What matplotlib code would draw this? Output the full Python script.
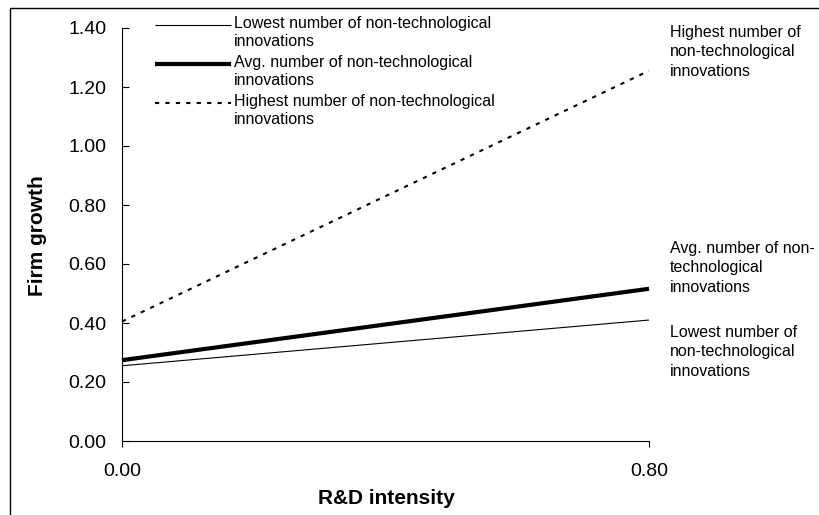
import matplotlib
matplotlib.use("Agg")
import matplotlib.pyplot as plt
from matplotlib.lines import Line2D
from matplotlib.patches import Rectangle

plt.rcParams['font.family'] = ['Liberation Sans', 'DejaVu Sans']

# values
rd_intensity = [0.0, 0.8]
growth_lowest = [0.255, 0.41]
growth_avg = [0.274, 0.516]
growth_highest = [0.405, 1.255]

series_names = ['Lowest number of non-technological\ninnovations',
                'Avg. number of non-technological\ninnovations',
                'Highest number of non-technological\ninnovations']
end_labels = ['Lowest number of\nnon-technological\ninnovations',
              'Avg. number of non-\ntechnological\ninnovations',
              'Highest number of\nnon-technological\ninnovations']
yticks = [0.0, 0.2, 0.4, 0.6, 0.8, 1.0, 1.2, 1.4]
xticks = [0.0, 0.8]

W, H = 820, 515
fig = plt.figure(figsize=(W / 100, H / 100), dpi=100)
ax = fig.add_axes([122 / W, 1 - 441 / H, (649 - 122) / W, (441 - 28) / H])

styles = [dict(color='black', lw=0.8, ls='-'),
          dict(color='black', lw=3.0, ls='-'),
          dict(color='black', lw=1.5, ls=(0, (2, 3)))]
series = [growth_lowest, growth_avg, growth_highest]
for vals, st in zip(series, styles):
    ax.plot(rd_intensity, vals, solid_capstyle='butt', clip_on=False, **st)

ax.set_xlim(0, 0.8)
ax.set_ylim(0, 1.4)
ax.set_xticks(xticks)
ax.set_xticklabels(['%.2f' % v for v in xticks])
ax.set_yticks(yticks)
ax.set_yticklabels(['%.2f' % v for v in yticks])
ax.tick_params(axis='y', direction='in', length=5, width=0.8, pad=11, labelsize=14)
ax.tick_params(axis='x', direction='out', length=4, width=0.8, pad=12, labelsize=14)
ax.spines['top'].set_visible(False)
ax.spines['right'].set_visible(False)
ax.spines['left'].set_linewidth(0.8)
ax.spines['bottom'].set_linewidth(0.8)

fig.text(38 / W, 1 - 236 / H, 'Firm growth', rotation=90, ha='center', va='center',
         fontsize=15, fontweight='bold')
fig.text(386 / W, 1 - 498 / H, 'R&D intensity', ha='center', va='center',
         fontsize=15, fontweight='bold')

# legend drawn by hand, top left inside the plot
leg_y = [25, 64, 103]
for name, st, y in zip(series_names, styles, leg_y):
    fig.add_artist(Line2D([155 / W, 231 / W], [1 - y / H, 1 - y / H],
                          transform=fig.transFigure, solid_capstyle='butt', **st))
    fig.text(234 / W, 1 - (y - 9) / H, name, ha='left', va='top', fontsize=11.5,
             linespacing=1.22)

# labels at the right end of the lines
end_y = [325, 241, 25]
for lab, y in zip(end_labels, end_y):
    fig.text(670 / W, 1 - y / H, lab, ha='left', va='top', fontsize=11.5, linespacing=1.36)

# outer frame, cut off at right and bottom
fig.add_artist(Rectangle((10 / W, -0.1), 1.2, 1 - 8 / H + 0.1, transform=fig.transFigure,
                         fill=False, edgecolor='black', lw=1.0))

fig.savefig('out.png', dpi=100)
